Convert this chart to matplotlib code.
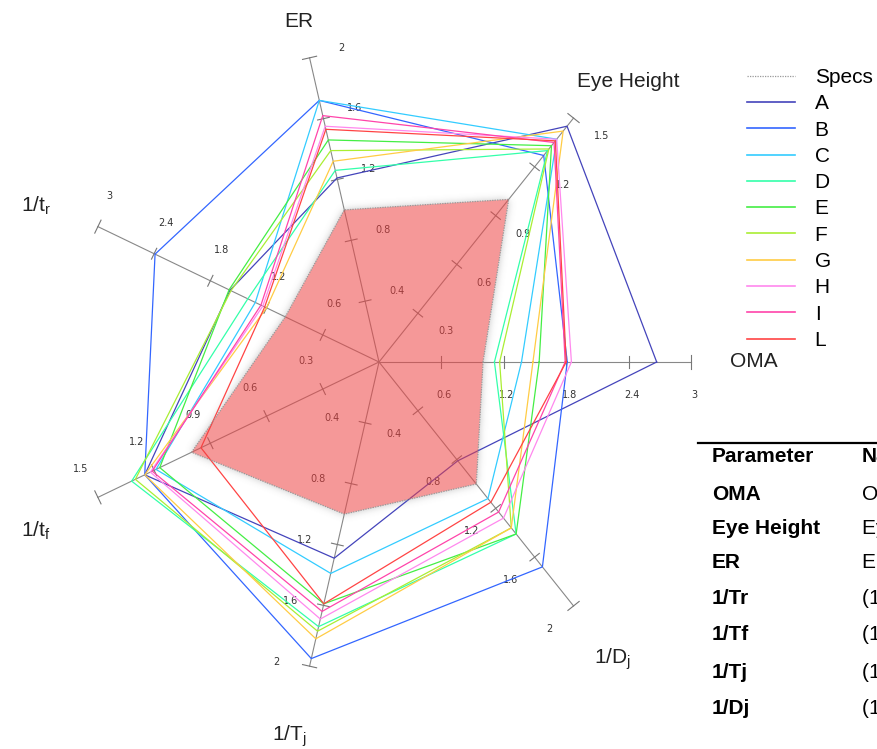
import numpy as np
import matplotlib
matplotlib.use('Agg')
import matplotlib.pyplot as plt
from matplotlib.path import Path
from matplotlib.lines import Line2D

plt.rcParams['font.family'] = ['Liberation Sans', 'DejaVu Sans']

# radar axes (counter-clockwise from OMA) and their full-scale values
axis_names = ['OMA', 'Eye Height', 'ER', '1/t$_\\mathregular{r}$', '1/t$_\\mathregular{f}$',
              '1/T$_\\mathregular{j}$', '1/D$_\\mathregular{j}$']
axis_max = [3, 1.5, 2, 3, 1.5, 2, 2]

specs = [1.0, 1.0, 1.0, 1.0, 1.0, 1.0, 1.0]

# measured parts, same axis order as above
A = [2.67, 1.45, 1.21, 1.59, 1.25, 1.29, 0.81]
B = [1.81, 1.27, 1.72, 2.39, 1.25, 1.95, 1.68]
C = [1.37, 1.37, 1.72, 1.32, 1.19, 1.39, 1.12]
D = [1.11, 1.30, 1.26, 1.40, 1.32, 1.74, 1.41]
E = [1.54, 1.33, 1.46, 1.60, 1.17, 1.59, 1.41]
F = [1.16, 1.31, 1.39, 1.58, 1.30, 1.77, 1.36]
G = [1.48, 1.42, 1.32, 1.20, 1.25, 1.82, 1.36]
H = [1.85, 1.37, 1.55, 1.24, 1.22, 1.69, 1.28]
I = [1.79, 1.35, 1.62, 1.26, 1.21, 1.64, 1.23]
L = [1.80, 1.36, 1.53, 1.22, 0.95, 1.59, 1.15]

series_names = ['A', 'B', 'C', 'D', 'E', 'F', 'G', 'H', 'I', 'L']
series = [A, B, C, D, E, F, G, H, I, L]
colors = ['#4444bb', '#3366ff', '#33ccff', '#33ffaa', '#44ee44',
          '#aaee33', '#ffcc44', '#ff88ee', '#ff44aa', '#ff4444']

# parameter table
table_header = ['Parameter', 'Name']
table_params = ['OMA', 'Eye Height', 'ER', '1/Tr', '1/Tf', '1/Tj', '1/Dj']
table_names = ['OMA (Optical Modulation Amplitude)', 'Eye Height', 'ER (Extinction Ratio)',
               '(1/Rise time)', '(1/Fall time)', '(1/Total jitter)', '(1/Deterministic jitter)']

W, Hpx = 877, 749
CX, CY, R = 379, 362, 312   # centre and radius in pixels

fig = plt.figure(figsize=(W / 100, Hpx / 100), dpi=100)
ax = fig.add_axes([0, 0, 1, 1])
ax.set_xlim(-CX / R, (W - CX) / R)
ax.set_ylim(-(Hpx - CY) / R, CY / R)
ax.set_aspect('equal')
ax.axis('off')

n = len(axis_names)
theta = np.arange(n) * 2 * np.pi / n
amax = np.array(axis_max, dtype=float)


def to_xy(vals):
    r = np.array(vals) / amax
    x = r * np.cos(theta)
    y = r * np.sin(theta)
    return np.append(x, x[0]), np.append(y, y[0])


# soft glow around the specs area
sx, sy = to_xy(specs)
poly = Path(np.column_stack([sx, sy]))
gx = np.linspace(-CX / R, (W - CX) / R, W)
gy = np.linspace(CY / R, -(Hpx - CY) / R, Hpx)
XX, YY = np.meshgrid(gx, gy)
mask = poly.contains_points(np.column_stack([XX.ravel(), YY.ravel()])).reshape(XX.shape).astype(float)
k = np.arange(-12, 13)
kern = np.exp(-k ** 2 / (2 * 4.0 ** 2))
kern /= kern.sum()
blur = np.apply_along_axis(lambda v: np.convolve(v, kern, mode='same'), 1, mask)
blur = np.apply_along_axis(lambda v: np.convolve(v, kern, mode='same'), 0, blur)
glow = np.zeros(mask.shape + (4,))
glow[..., :3] = 0.45
glow[..., 3] = blur * (1 - mask) * 0.45
ax.imshow(glow, extent=(gx[0], gx[-1], gy[-1], gy[0]), zorder=0, interpolation='bilinear')

# spokes, tick marks and tick labels
tick_half = 6 / R
for i in range(n):
    c, s = np.cos(theta[i]), np.sin(theta[i])
    ax.plot([0, c], [0, s], color='#888888', lw=0.8, zorder=1)
    px, py = -s, c
    for f in [0.2, 0.4, 0.6, 0.8, 1.0]:
        h = tick_half * (1.2 if f == 1.0 else 1.0)
        ax.plot([f * c - h * px, f * c + h * px], [f * s - h * py, f * s + h * py],
                color='#777777', lw=0.8, zorder=1)
        ax.annotate('{:g}'.format(round(f * axis_max[i], 2)), (f * c, f * s),
                    xytext=(33 * s + 3 * c, -33 * c + 3 * s), textcoords='offset pixels',
                    ha='center', va='center', fontsize=7, color='#333333',
                    family='DejaVu Sans', zorder=2)

# axis names
label_nudge = [(0, 0), (16, -12), (3, -25), (-6, -6), (-6, -6), (-6, -9), (0, -4)]
for i in range(n):
    ax.annotate(axis_names[i], (1.2 * np.cos(theta[i]), 1.2 * np.sin(theta[i])),
                xytext=label_nudge[i], textcoords='offset pixels', annotation_clip=False,
                ha='center', va='center', fontsize=15, color='#222222')

# part outlines
for name, vals, col in zip(series_names, series, colors):
    x, y = to_xy(vals)
    ax.plot(x, y, color=col, lw=0.9, zorder=3)

# specs area on top
ax.fill(sx, sy, color='#ee4444', alpha=0.55, lw=0, zorder=4)
ax.plot(sx, sy, color='#999999', lw=0.9, ls=(0, (1, 1)), zorder=5)

handles = [Line2D([], [], color='#999999', lw=0.9, ls=(0, (1, 1)))]
handles += [Line2D([], [], color=c, lw=1.2) for c in colors]
fig.legend(handles, ['Specs'] + series_names, loc='upper left',
           bbox_to_anchor=(747 / W, 1 - 68 / Hpx), frameon=False, fontsize=15,
           borderpad=0, borderaxespad=0, handlelength=2.3, handletextpad=0.95,
           labelspacing=0.35)

# table on the right
fig.add_artist(Line2D([698 / W, 1.0], [1 - 443 / Hpx, 1 - 443 / Hpx],
                      color='black', lw=1.6))
row_y = [457, 495, 528, 563, 598, 635, 672, 708]
fig.text(712 / W, 1 - row_y[0] / Hpx, table_header[0], fontsize=15,
         fontweight='bold', va='center', ha='left')
fig.text(862 / W, 1 - row_y[0] / Hpx, table_header[1], fontsize=15,
         fontweight='bold', va='center', ha='left')
for yy, p, nm in zip(row_y[1:], table_params, table_names):
    fig.text(712 / W, 1 - yy / Hpx, p, fontsize=15, fontweight='bold',
             va='center', ha='left')
    fig.text(862 / W, 1 - yy / Hpx, nm, fontsize=15, va='center', ha='left')

fig.savefig('out.png', dpi=100)
